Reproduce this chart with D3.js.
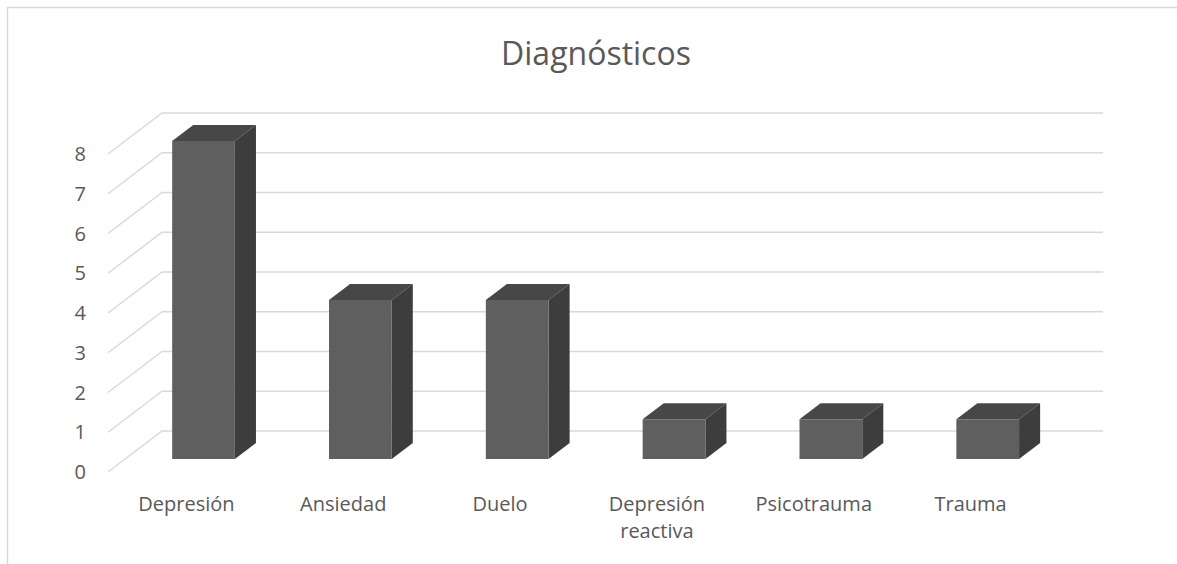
<!DOCTYPE html>
<html>
<head>
<meta charset="utf-8">
<script src="https://cdn.jsdelivr.net/npm/d3@7"></script>
<style>
  body { margin: 0; background: #fff; }
  text { font-family: "Open Sans", sans-serif; fill: #595959; }
</style>
</head>
<body>
<svg id="viz"></svg>
<script>
(function () {
  'use strict';

  const categories = ['Depresión', 'Ansiedad', 'Duelo', 'Depresión reactiva', 'Psicotrauma', 'Trauma'];
  const values = [8, 4, 4, 1, 1, 1];
  const yTicks = [0, 1, 2, 3, 4, 5, 6, 7, 8];
  const title = 'Diagnósticos';

  const width = 1177;
  const height = 564;

  // back wall of the 3d box
  const back = { left: 162, right: 1103, top: 113, bottom: 431 };
  // how far the front plane sits from the back wall, on screen
  const depth = { dx: 54, dy: 41 };
  // bars sit between these depth fractions (0 = front, 1 = back)
  const zFront = 0.317;
  const zBack = 0.707;

  const svg = d3.select('#viz')
    .attr('width', width)
    .attr('height', height);

  svg.append('rect')
    .attr('x', 7.5).attr('y', 7.5)
    .attr('width', width + 10).attr('height', height + 10)
    .attr('fill', 'none')
    .attr('stroke', '#d9d9d9')
    .attr('stroke-width', 1.5);

  const x = d3.scaleBand()
    .domain(categories)
    .range([back.left, back.right])
    .paddingInner(0.6)
    .paddingOuter(0.3);

  const band = d3.scaleBand()
    .domain(categories)
    .range([back.left, back.right]);

  const y = d3.scaleLinear()
    .domain([0, 8])
    .range([back.bottom, back.top]);

  // project a point (screen x on back wall, value, depth z) to screen
  function proj(px, v, z) {
    return [px - (1 - z) * depth.dx, y(v) + (1 - z) * depth.dy];
  }

  // gridlines: back wall + left wall
  const grid = svg.append('g')
    .attr('stroke', '#d9d9d9')
    .attr('stroke-width', 1.5)
    .attr('fill', 'none');

  yTicks.forEach(t => {
    const p0 = proj(back.left, t, 0);
    const p1 = proj(back.left, t, 1);
    const p2 = proj(back.right, t, 1);
    grid.append('path')
      .attr('d', d3.line()([p0, p1, p2]));
  });

  // y labels on the front plane
  svg.append('g').selectAll('text')
    .data(yTicks)
    .enter()
    .append('text')
      .attr('x', 86)
      .attr('y', d => proj(back.left, d, 0)[1])
      .attr('dy', '0.36em')
      .attr('text-anchor', 'end')
      .style('font-size', '20px')
      .text(d => d);

  // bars
  const bars = svg.append('g').selectAll('g')
    .data(categories.map((c, i) => ({ cat: c, value: values[i] })))
    .enter()
    .append('g');

  bars.append('path') // top
    .attr('fill', '#474747')
    .attr('d', d => {
      const l = x(d.cat), r = x(d.cat) + x.bandwidth();
      return d3.line()([
        proj(l, d.value, zFront), proj(r, d.value, zFront),
        proj(r, d.value, zBack), proj(l, d.value, zBack)
      ]) + 'Z';
    });

  bars.append('path') // side
    .attr('fill', '#3d3d3d')
    .attr('d', d => {
      const r = x(d.cat) + x.bandwidth();
      return d3.line()([
        proj(r, 0, zFront), proj(r, d.value, zFront),
        proj(r, d.value, zBack), proj(r, 0, zBack)
      ]) + 'Z';
    });

  bars.append('path') // front
    .attr('fill', '#5f5f5f')
    .attr('d', d => {
      const l = x(d.cat), r = x(d.cat) + x.bandwidth();
      return d3.line()([
        proj(l, 0, zFront), proj(r, 0, zFront),
        proj(r, d.value, zFront), proj(l, d.value, zFront)
      ]) + 'Z';
    });

  // category labels on the front edge
  const labels = svg.append('g').selectAll('text')
    .data(categories)
    .enter()
    .append('text')
      .attr('x', d => proj(band(d) + band.bandwidth() / 2, 0, 0)[0])
      .attr('y', 511)
      .attr('text-anchor', 'middle')
      .style('font-size', '20px');

  labels.each(function (d) {
    const words = d.split(' ');
    const t = d3.select(this);
    words.forEach((w, i) => {
      t.append('tspan')
        .attr('x', t.attr('x'))
        .attr('dy', i === 0 ? 0 : 27)
        .text(w);
    });
  });

  svg.append('text')
    .attr('x', 596)
    .attr('y', 65)
    .attr('text-anchor', 'middle')
    .style('font-size', '32px')
    .text(title);
}());
</script>
</body>
</html>
